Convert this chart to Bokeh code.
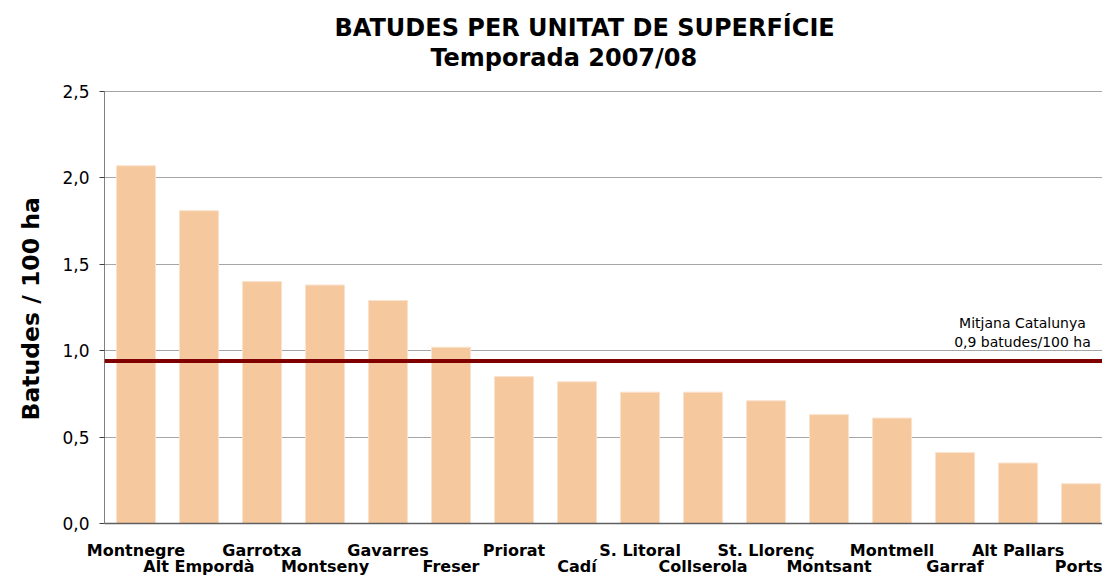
from bokeh.plotting import figure
from bokeh.models import Label, Span, FixedTicker, Range1d, LinearAxis, Title
from bokeh.embed import file_html
from bokeh.resources import INLINE

# ---- data ----
categories = ["Montnegre", "Alt Empordà", "Garrotxa", "Montseny", "Gavarres", "Freser",
              "Priorat", "Cadí", "S. Litoral", "Collserola", "St. Llorenç", "Montsant",
              "Montmell", "Garraf", "Alt Pallars", "Ports"]
values = [2.07, 1.81, 1.40, 1.38, 1.29, 1.02, 0.85, 0.82, 0.76, 0.76, 0.71, 0.63,
          0.61, 0.41, 0.35, 0.23]
mean_value = 0.94
y_ticks = [0.0, 0.5, 1.0, 1.5, 2.0, 2.5]
y_tick_labels = ["0,0", "0,5", "1,0", "1,5", "2,0", "2,5"]
title_line1 = "BATUDES PER UNITAT DE SUPERFÍCIE"
title_line2 = "Temporada 2007/08"
y_label = "Batudes / 100 ha"
mean_label1 = "Mitjana Catalunya"
mean_label2 = "0,9 batudes/100 ha"

FONT = "DejaVu Sans"
xs = list(range(len(categories)))
Y_MAX = 2.5
# frame spans the full height above the axis so the title sits inside it
Y_TOP = Y_MAX * 523 / 432

p = figure(width=1102, height=578, output_backend="svg", toolbar_location=None,
           x_range=Range1d(-0.5, 15.34), y_range=Range1d(0, Y_TOP),
           min_border_left=104, min_border_right=0, min_border_top=0,
           min_border_bottom=55, title=None)
p.outline_line_color = None

# bars
p.vbar(x=xs, top=values, width=0.62, fill_color="#F5C89E", line_color="#FAE2CC",
       line_width=1)

# mean line
p.add_layout(Span(location=mean_value, dimension="width", line_color="#800000",
                  line_width=4))

# y axis
p.yaxis.bounds = (0, Y_MAX)
p.yaxis.ticker = FixedTicker(ticks=y_ticks)
p.yaxis.major_label_overrides = {t: l for t, l in zip(y_ticks, y_tick_labels)}
p.yaxis.major_label_text_font = FONT
p.yaxis.major_label_text_font_size = "17px"
p.yaxis.major_label_text_color = "black"
p.yaxis.major_label_standoff = 10
p.yaxis.major_tick_out = 5
p.yaxis.major_tick_in = 0
p.yaxis.minor_tick_line_color = None
p.yaxis.axis_line_color = "#808080"
p.yaxis.major_tick_line_color = "#404040"

# y axis title, placed along the 0..2.5 part of the axis
p.add_layout(Title(text=y_label, align="left", offset=103, standoff=29,
                   text_font=FONT, text_font_style="bold", text_font_size="23.5px",
                   text_color="black"), "left")

# x axes: staggered category labels
even = [i for i in xs if i % 2 == 0]
odd = [i for i in xs if i % 2 == 1]
xa = p.xaxis[0]
xa.ticker = FixedTicker(ticks=even)
xa.major_label_overrides = {i: categories[i] for i in even}
xa.major_tick_line_color = None
xa.major_tick_out = 0
xa.major_tick_in = 0
xa.minor_tick_line_color = None
xa.axis_line_color = "#606060"
xa.axis_line_width = 1.5
xa.major_label_standoff = 17
xa.major_label_text_font = FONT
xa.major_label_text_font_style = "bold"
xa.major_label_text_font_size = "16px"
xa.major_label_text_color = "black"

xb = LinearAxis(ticker=FixedTicker(ticks=odd),
                major_label_overrides={i: categories[i] for i in odd},
                axis_line_color=None, major_tick_line_color=None,
                minor_tick_line_color=None, major_tick_out=0, major_tick_in=0,
                major_label_standoff=-6, major_label_text_font=FONT,
                major_label_text_font_style="bold", major_label_text_font_size="16px",
                major_label_text_color="black")
p.add_layout(xb, "below")

# grid
p.xgrid.visible = False
p.ygrid.ticker = FixedTicker(ticks=y_ticks)
p.ygrid.grid_line_color = "#A6A6A6"

# titles
p.add_layout(Label(x=7.12, y=2.870, text=title_line1, text_align="center",
                   text_baseline="middle", text_font=FONT, text_font_style="bold",
                   text_font_size="24px", text_color="black"))
p.add_layout(Label(x=6.79, y=2.691, text=title_line2, text_align="center",
                   text_baseline="middle", text_font=FONT, text_font_style="bold",
                   text_font_size="24px", text_color="black"))

# mean annotation
p.add_layout(Label(x=14.07, y=1.16, text=mean_label1, text_align="center",
                   text_baseline="middle", text_font=FONT, text_font_size="14px",
                   text_color="black"))
p.add_layout(Label(x=14.07, y=1.05, text=mean_label2, text_align="center",
                   text_baseline="middle", text_font=FONT, text_font_size="14px",
                   text_color="black"))

open("out.html", "w").write(file_html(p, INLINE))
